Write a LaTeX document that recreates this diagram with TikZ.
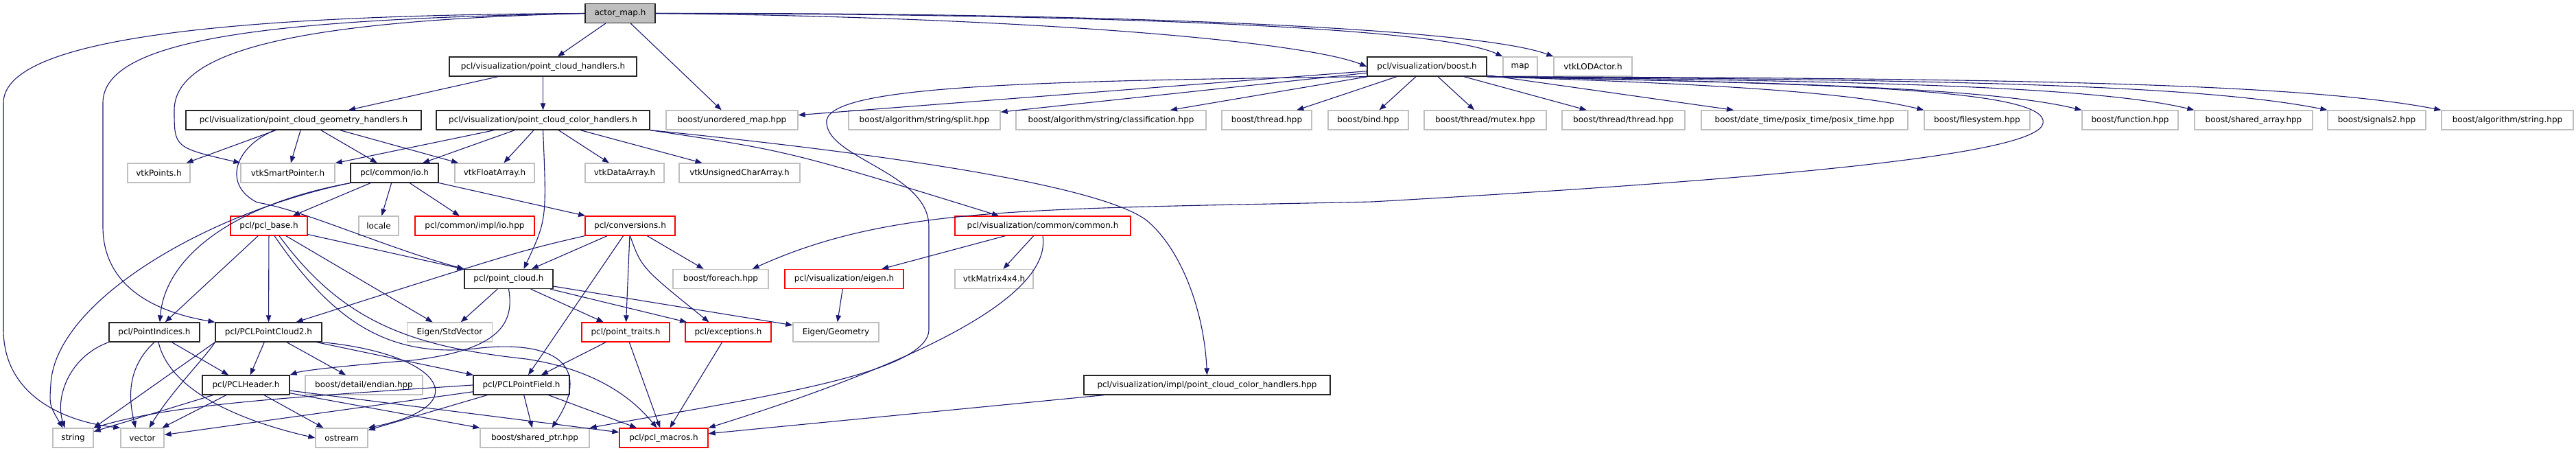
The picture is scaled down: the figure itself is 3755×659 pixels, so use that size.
\documentclass[tikz,border=0pt]{standalone}
\usepackage{fontspec}
\setmainfont{DejaVu Sans}
\usetikzlibrary{arrows.meta}
\definecolor{edgeblue}{HTML}{191970}
\definecolor{extgray}{HTML}{BFBFBF}

\begin{document}
\begin{tikzpicture}[x=1pt, y=-1pt,
    every node/.style={font=\fontsize{12}{14}\selectfont, inner sep=0pt},
    hdr/.style={draw, minimum height=28pt, line width=1.3pt},
    docnode/.style={hdr, draw=black!85, fill=white},
    extnode/.style={hdr, draw=extgray, fill=white},
    cutnode/.style={hdr, draw=red, fill=white},
    rootnode/.style={hdr, draw=black!85, fill=extgray},
    inc/.style={-{Triangle[length=10pt,width=7.5pt]}, line width=1.1pt, draw=edgeblue},
  ]
  \useasboundingbox (0,0) rectangle (3755,659);

  % top
  \node[rootnode, minimum width=102pt] (actormap) at (904,19.5) {actor\_map.h};
  \node[docnode, minimum width=273pt] (pchand) at (791.5,97) {pcl/visualization/point\_cloud\_handlers.h};
  \node[docnode, minimum width=174pt] (vboost) at (2080,97) {pcl/visualization/boost.h};
  \node[extnode, minimum width=50pt] (vmap) at (2216,97) {map};
  \node[extnode, minimum width=114pt] (vtklod) at (2322,97) {vtkLODActor.h};

  % handlers and boost headers
  \node[docnode, minimum width=343pt] (geomh) at (442.5,175) {pcl/visualization/point\_cloud\_geometry\_handlers.h};
  \node[docnode, minimum width=311pt] (colorh) at (791.5,175) {pcl/visualization/point\_cloud\_color\_handlers.h};
  \node[extnode, minimum width=192pt] (umap) at (1067,175) {boost/unordered\_map.hpp};
  \node[extnode, minimum width=221pt] (split) at (1347.5,175) {boost/algorithm/string/split.hpp};
  \node[extnode, minimum width=277pt] (classif) at (1619.5,175) {boost/algorithm/string/classification.hpp};
  \node[extnode, minimum width=131pt] (bthread) at (1846.5,175) {boost/thread.hpp};
  \node[extnode, minimum width=117pt] (bbind) at (1994.5,175) {boost/bind.hpp};
  \node[extnode, minimum width=178pt] (mutex) at (2165,175) {boost/thread/mutex.hpp};
  \node[extnode, minimum width=179pt] (tthread) at (2366.5,175) {boost/thread/thread.hpp};
  \node[extnode, minimum width=301pt] (posix) at (2630.5,175) {boost/date\_time/posix\_time/posix\_time.hpp};
  \node[extnode, minimum width=154pt] (fsys) at (2882,175) {boost/filesystem.hpp};
  \node[extnode, minimum width=140pt] (bfunc) at (3105,175) {boost/function.hpp};
  \node[extnode, minimum width=172pt] (sharr) at (3285,175) {boost/shared\_array.hpp};
  \node[extnode, minimum width=143pt] (sig2) at (3464.5,175) {boost/signals2.hpp};
  \node[extnode, minimum width=192pt] (algostr) at (3655,175) {boost/algorithm/string.hpp};

  % vtk row
  \node[extnode, minimum width=91pt] (vpoints) at (231.5,252) {vtkPoints.h};
  \node[extnode, minimum width=137pt] (vsmart) at (419.5,252) {vtkSmartPointer.h};
  \node[docnode, minimum width=128pt] (io) at (575,252) {pcl/common/io.h};
  \node[extnode, minimum width=116pt] (vfloat) at (721,252) {vtkFloatArray.h};
  \node[extnode, minimum width=115pt] (vdata) at (910.5,252) {vtkDataArray.h};
  \node[extnode, minimum width=176pt] (vuchar) at (1078,252) {vtkUnsignedCharArray.h};

  \node[cutnode, minimum width=112pt] (pclbase) at (392,329) {pcl/pcl\_base.h};
  \node[extnode, minimum width=58pt] (locale) at (552,329) {locale};
  \node[cutnode, minimum width=174pt] (implio) at (692,329) {pcl/common/impl/io.hpp};
  \node[cutnode, minimum width=131pt] (conv) at (918.5,329) {pcl/conversions.h};
  \node[cutnode, minimum width=256pt] (vcommon) at (1520,329) {pcl/visualization/common/common.h};

  \node[docnode, minimum width=129pt] (pcloud) at (741.5,406.5) {pcl/point\_cloud.h};
  \node[extnode, minimum width=139pt] (bforeach) at (1050.5,406.5) {boost/foreach.hpp};
  \node[cutnode, minimum width=173pt] (veigen) at (1230.5,406.5) {pcl/visualization/eigen.h};
  \node[extnode, minimum width=114pt] (vtkmat) at (1449,406.5) {vtkMatrix4x4.h};

  \node[docnode, minimum width=132pt] (pointidx) at (225,484) {pcl/PointIndices.h};
  \node[docnode, minimum width=155pt] (pclpc2) at (391.5,484) {pcl/PCLPointCloud2.h};
  \node[extnode, minimum width=124pt] (eigenstdv) at (655.5,484) {Eigen/StdVector};
  \node[cutnode, minimum width=128pt] (ptraits) at (912,484) {pcl/point\_traits.h};
  \node[cutnode, minimum width=125pt] (exc) at (1061.5,484) {pcl/exceptions.h};
  \node[extnode, minimum width=125pt] (eigengeo) at (1218.5,484) {Eigen/Geometry};

  \node[docnode, minimum width=127pt] (pclheader) at (358.5,561) {pcl/PCLHeader.h};
  \node[extnode, minimum width=171pt] (endian) at (530.5,561) {boost/detail/endian.hpp};
  \node[docnode, minimum width=140pt] (pclpf) at (760,561) {pcl/PCLPointField.h};
  \node[docnode, minimum width=359pt] (implcch) at (1759.5,561) {pcl/visualization/impl/point\_cloud\_color\_handlers.hpp};

  % bottom row
  \node[extnode, minimum width=59pt] (string) at (106.5,638) {string};
  \node[extnode, minimum width=63pt] (vector) at (207.5,638) {vector};
  \node[extnode, minimum width=76pt] (ostream) at (498,638) {ostream};
  \node[extnode, minimum width=159pt] (shptr) at (779.5,638) {boost/shared\_ptr.hpp};
  \node[cutnode, minimum width=129pt] (macros) at (967.5,638) {pcl/pcl\_macros.h};

  % actor_map.h
  \draw[inc] (actormap) -- (pchand);
  \draw[inc] (actormap) -- (umap);
  \draw[inc] (actormap.east) .. controls (1500,25) and (1900,60) .. (vboost.west);
  \draw[inc] (actormap.east) .. controls (1600,20) and (2100,40) .. (vmap.north west);
  \draw[inc] (actormap.east) .. controls (1600,18) and (2150,40) .. (vtklod.north west);
  \draw[inc] (actormap.west) .. controls (450,30) and (255,70) .. (254,160)
    .. controls (254,215) .. (vsmart.north west);
  \draw[inc] (actormap.west) .. controls (400,28) and (150,55) .. (150,150) -- (150,330)
    .. controls (150,420) and (230,455) .. (pclpc2.north west);
  \draw[inc] (actormap.west) .. controls (300,22) and (5,60) .. (5,150) -- (5,480)
    .. controls (5,580) and (100,615) .. (vector.north west);

  % handlers
  \draw[inc] (pchand) -- (geomh);
  \draw[inc] (pchand) -- (colorh);
  \draw[inc] (geomh) -- (vpoints);
  \draw[inc] (geomh) -- (vsmart);
  \draw[inc] (geomh) -- (io);
  \draw[inc] (geomh) -- (vfloat);
  \draw[inc] ([xshift=-42pt]geomh.south) .. controls (340,215) and (325,270) .. (375,295)
    .. controls (440,305) and (560,360) .. (pcloud.north west);
  \draw[inc] (colorh) -- (vsmart);
  \draw[inc] (colorh) -- (io);
  \draw[inc] (colorh) -- (vfloat);
  \draw[inc] (colorh.south) .. controls (797,320) .. ([xshift=22pt]pcloud.north);
  \draw[inc] (colorh) -- (vdata);
  \draw[inc] (colorh) -- (vuchar);
  \draw[inc] (colorh.south east) .. controls (1150,220) .. ([xshift=-64pt]vcommon.north);
  \draw[inc] (colorh.south east) .. controls (1300,225) and (1600,270) .. (1670,320)
    .. controls (1720,360) and (1755,450) .. (implcch.north);

  % pcl/visualization/boost.h
  \draw[inc] (vboost) -- (umap);
  \draw[inc] (vboost) -- (split);
  \draw[inc] (vboost) -- (classif);
  \draw[inc] (vboost) -- (bthread);
  \draw[inc] (vboost) -- (bbind);
  \draw[inc] (vboost) -- (mutex);
  \draw[inc] (vboost) -- (tthread);
  \draw[inc] (vboost) -- (posix);
  \draw[inc] (vboost.south east) .. controls (2500,122) and (2700,135) .. (fsys.north west);
  \draw[inc] (vboost.south east) .. controls (2600,120) and (2900,128) .. (bfunc.north west);
  \draw[inc] (vboost.south east) .. controls (2700,118) and (3050,125) .. (sharr.north west);
  \draw[inc] (vboost.south east) .. controls (2800,116) and (3200,122) .. (sig2.north west);
  \draw[inc] (vboost.south east) .. controls (2900,114) and (3350,120) .. (algostr.north west);
  \draw[inc] (vboost.south east) .. controls (2650,122) and (2990,128) .. (2978,180)
    .. controls (2968,225) and (2600,260) .. (2000,294)
    .. controls (1500,305) and (1300,300) .. ([xshift=-24pt]bforeach.north east);
  \draw[inc] (vboost.south west) .. controls (1500,118) and (1215,125) .. (1205,175)
    .. controls (1200,230) and (1354,250) .. (1354,330) -- (1354,480)
    .. controls (1354,545) and (1100,580) .. (shptr.north east);

  % pcl/common/io.h
  \draw[inc] (io.south west) .. controls (300,310) and (80,440) .. (74,560)
    .. controls (72,590) .. ([xshift=-15pt]string.north);
  \draw[inc] (io.south west) .. controls (330,300) and (240,380) .. ([xshift=8pt]pointidx.north);
  \draw[inc] (io) -- (pclbase);
  \draw[inc] (io) -- (locale);
  \draw[inc] (io) -- (implio);
  \draw[inc] (io) -- (conv);

  % pcl/conversions.h
  \draw[inc] (conv.south west) .. controls (760,365) .. ([xshift=40pt]pclpc2.north);
  \draw[inc] (conv) -- (pcloud);
  \draw[inc] (conv) -- (pclpf);
  \draw[inc] (conv) -- (ptraits);
  \draw[inc] (conv.south) .. controls (935,390) .. ([xshift=-28pt]exc.north);
  \draw[inc] (conv) -- (bforeach);

  % pcl/visualization/common/common.h
  \draw[inc] (vcommon) -- (veigen);
  \draw[inc] (vcommon) -- (vtkmat);
  \draw[inc] (vcommon.south) .. controls (1535,440) and (1300,540) .. (macros.north east);
  \draw[inc] (veigen) -- (eigengeo);

  % pcl/pcl_base.h
  \draw[inc] (pclbase) -- (pointidx);
  \draw[inc] (pclbase) -- (pclpc2);
  \draw[inc] ([xshift=8pt]pclbase.south) .. controls (480,460) and (560,525) .. (700,507)
    .. controls (820,495) and (860,540) .. ([xshift=25pt]shptr.north);
  \draw[inc] ([xshift=15pt]pclbase.south) .. controls (500,470) and (600,505) .. (767,523)
    .. controls (880,540) and (930,590) .. ([xshift=-10pt]macros.north);
  \draw[inc] (pclbase) -- (eigenstdv);
  \draw[inc] (pclbase) -- (pcloud);

  % pcl/point_cloud.h
  \draw[inc] (pcloud) -- (eigenstdv);
  \draw[inc] (pcloud.south) .. controls (750,470) and (730,510) .. (600,525)
    .. controls (500,533) and (440,540) .. (pclheader.north east);
  \draw[inc] (pcloud) -- (ptraits);
  \draw[inc] (pcloud) -- (exc);
  \draw[inc] (pcloud) -- (eigengeo);

  % pcl/PointIndices.h
  \draw[inc] (pointidx.south west) .. controls (100,520) and (80,580) .. ([xshift=-12pt]string.north);
  \draw[inc] (pointidx.south) .. controls (180,540) and (190,590) .. ([xshift=-10pt]vector.north);
  \draw[inc] ([xshift=6pt]pointidx.south) .. controls (250,580) and (380,620) .. (ostream.west);
  \draw[inc] (pointidx) -- (pclheader);

  % pcl/PCLPointCloud2.h
  \draw[inc] (pclpc2.south west) -- (string.north east);
  \draw[inc] (pclpc2.south west) .. controls (300,520) and (250,570) .. ([xshift=10pt]vector.north);
  \draw[inc] (pclpc2) -- (pclheader);
  \draw[inc] (pclpc2) -- (endian);
  \draw[inc] (pclpc2) -- (pclpf);
  \draw[inc] (pclpc2.south east) .. controls (640,515) and (700,590) .. (ostream.north east);

  % pcl/PCLHeader.h
  \draw[inc] (pclheader) -- (string);
  \draw[inc] (pclheader) -- (vector);
  \draw[inc] (pclheader) -- (ostream);
  \draw[inc] (pclheader) -- (shptr);
  \draw[inc] (pclheader) -- (macros);

  % pcl/PCLPointField.h
  \draw[inc] (pclpf.west) .. controls (400,580) and (250,590) .. (string.north east);
  \draw[inc] (pclpf) -- (vector);
  \draw[inc] (pclpf) -- (ostream);
  \draw[inc] (pclpf) -- (shptr);
  \draw[inc] (pclpf) -- (macros);

  \draw[inc] (ptraits) -- (pclpf);
  \draw[inc] (ptraits) -- (macros);
  \draw[inc] (exc) -- (macros);
  \draw[inc] (implcch) -- (macros);
\end{tikzpicture}
\end{document}
